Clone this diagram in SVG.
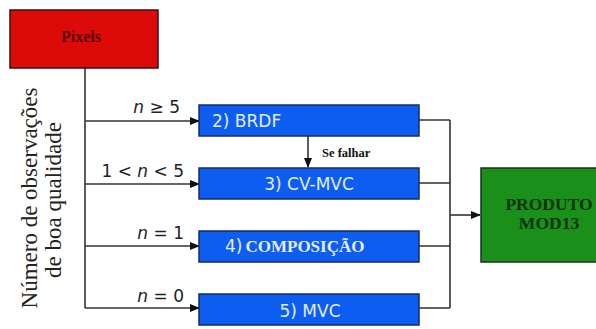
<svg xmlns="http://www.w3.org/2000/svg" width="596" height="329" viewBox="0 0 596 329">
<defs>
<marker id="ah" markerWidth="10" markerHeight="8" refX="9" refY="4" orient="auto" markerUnits="userSpaceOnUse">
<path d="M0,0 L10,4 L0,8 Z" fill="#111"/>
</marker>
<style>
.ln{stroke:#333;stroke-width:1.6;fill:none}
.blue{fill:#0d5ef0;stroke:#1b2b5e;stroke-width:1.5}
.bt{font-family:"DejaVu Sans",Verdana,sans-serif;font-size:17px;fill:#e4ecff}
.lab{font-family:"DejaVu Sans",Verdana,sans-serif;font-size:17px;fill:#222}
.ser{font-family:"Liberation Serif","Times New Roman",serif;font-weight:bold}
.vt{font-family:"Liberation Serif","Times New Roman",serif;font-size:23px;fill:#222;text-anchor:middle}
</style>
</defs>
<rect width="596" height="329" fill="#fff"/>
<g id="connectors">
<path class="ln" d="M85,68 V308"/>
<path class="ln" d="M85,121 H199" marker-end="url(#ah)"/>
<path class="ln" d="M85,184 H199" marker-end="url(#ah)"/>
<path class="ln" d="M85,246 H199" marker-end="url(#ah)"/>
<path class="ln" d="M85,308 H199" marker-end="url(#ah)"/>
<path class="ln" d="M308,136 V167" marker-end="url(#ah)"/>
<path class="ln" d="M419,120 H450 M419,183 H450 M419,246 H450 M419,308 H450 M450,120 V308"/>
<path class="ln" d="M450,215 H480" marker-end="url(#ah)"/>
<text class="lab" x="180" y="113" text-anchor="end"><tspan font-style="italic">n</tspan> ≥ 5</text>
<text class="lab" x="184" y="177" text-anchor="end">1 &lt; <tspan font-style="italic">n</tspan> &lt; 5</text>
<text class="lab" x="184" y="239" text-anchor="end"><tspan font-style="italic">n</tspan> = 1</text>
<text class="lab" x="184" y="302" text-anchor="end"><tspan font-style="italic">n</tspan> = 0</text>
<text class="ser" x="322" y="157" font-size="12.5" fill="#111">Se falhar</text>
</g>
<g id="pixels">
<rect x="10" y="10" width="148" height="58" fill="#dd0a0a" stroke="#3a1010" stroke-width="1.5"/>
<text class="ser" x="81" y="42" font-size="16" fill="#5a0808" text-anchor="middle">Pixels</text>
</g>
<g id="brdf">
<rect class="blue" x="199" y="105" width="220" height="31"/>
<text class="bt" x="212" y="127">2) BRDF</text>
</g>
<g id="cvmvc">
<rect class="blue" x="199" y="168" width="220" height="31"/>
<text class="bt" x="309" y="190" text-anchor="middle">3) CV-MVC</text>
</g>
<g id="composicao">
<rect class="blue" x="199" y="231" width="220" height="31"/>
<text class="bt" x="225" y="252">4)<tspan class="ser" font-size="17" dx="3">COMPOSIÇÃO</tspan></text>
</g>
<g id="mvc">
<rect class="blue" x="199" y="294" width="220" height="31"/>
<text class="bt" x="310" y="317" text-anchor="middle">5) MVC</text>
</g>
<g id="produto">
<rect x="481" y="168" width="130" height="94" fill="#1a8f1a" stroke="#1a331a" stroke-width="1.5"/>
<text class="ser" x="549" y="210" font-size="17.5" fill="#0c330c" text-anchor="middle">PRODUTO</text>
<text class="ser" x="549" y="229" font-size="17.5" fill="#0c330c" text-anchor="middle">MOD13</text>
</g>
<g id="axis-label">
<text class="vt" transform="translate(37,198) rotate(-90)">Número de observações</text>
<text class="vt" transform="translate(61,200) rotate(-90)">de boa qualidade</text>
</g>
</svg>
